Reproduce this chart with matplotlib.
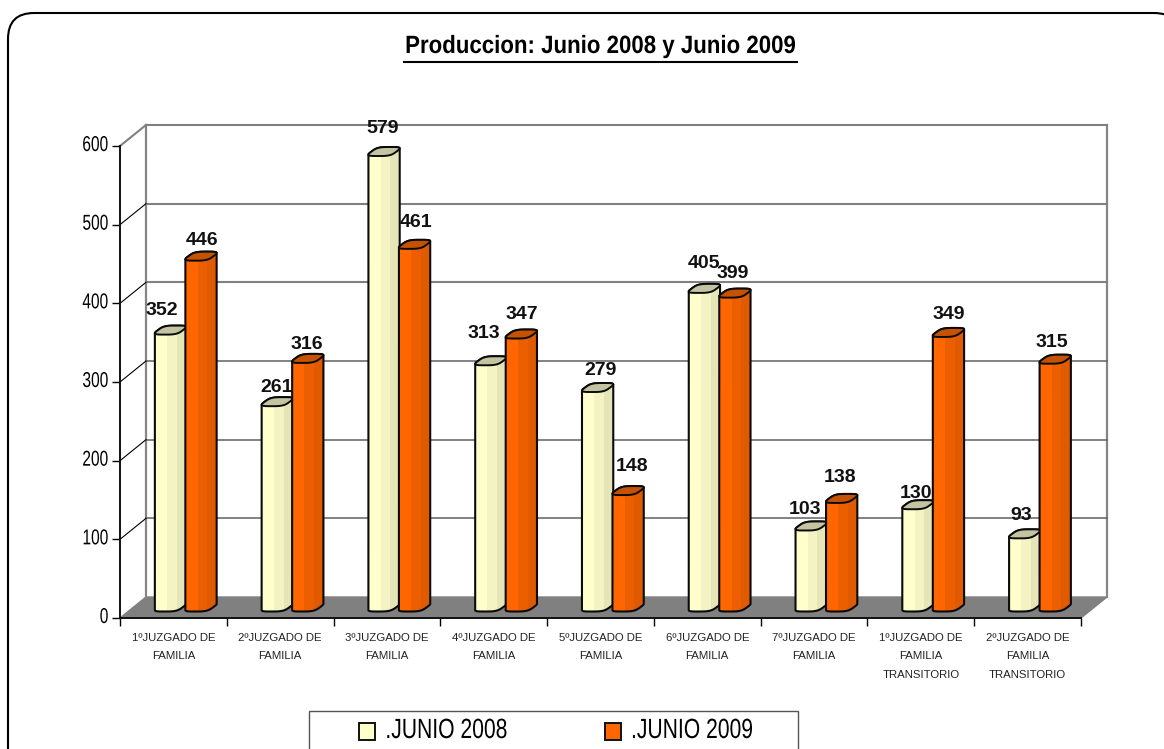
import matplotlib
matplotlib.use("Agg")
import matplotlib.pyplot as plt
import numpy as np
from matplotlib.patches import FancyBboxPatch, Polygon, Rectangle
from matplotlib.patheffects import AbstractPathEffect
from matplotlib.transforms import Affine2D

categories = ["1ºJUZGADO DE\nFAMILIA", "2ºJUZGADO DE\nFAMILIA", "3ºJUZGADO DE\nFAMILIA",
              "4ºJUZGADO DE\nFAMILIA", "5ºJUZGADO DE\nFAMILIA", "6ºJUZGADO DE\nFAMILIA",
              "7ºJUZGADO DE\nFAMILIA", "1ºJUZGADO DE\nFAMILIA\nTRANSITORIO",
              "2ºJUZGADO DE\nFAMILIA\nTRANSITORIO"]
junio_2008 = [352, 261, 579, 313, 279, 405, 103, 130, 93]
junio_2009 = [446, 316, 461, 347, 148, 399, 138, 349, 315]
y_ticks = [0, 100, 200, 300, 400, 500, 600]

# label nudges in pixels, the labels were moved by hand in the original
dx_2008 = [-8, 0, -1, -7, 3, 0, -6, -1, -3]
dy_2008 = [24, 18, 27, 31, 21, 29, 20, 15, 22]
dx_2009 = [2, 0, 3, 1, 5, -1, -1, 1, -2]
dy_2009 = [20, 18, 26, 24, 28, 24, 25, 22, 21]

W, H = 1164, 749
SANS = "Liberation Sans"


class Squeeze(AbstractPathEffect):
    # no narrow font here, so condense the glyphs around the middle (or right end) of the line
    def __init__(self, sx, dy=0, anchor="center"):
        super().__init__()
        self.sx = sx
        self.dy = dy
        self.anchor = anchor

    def draw_path(self, renderer, gc, tpath, affine, rgbFace=None):
        box = tpath.get_extents()
        mid = box.x1 if self.anchor == "right" else (box.x0 + box.x1) / 2
        sq = Affine2D().translate(-mid, 0).scale(self.sx, 1).translate(mid, 0)
        renderer.draw_path(gc, tpath, sq + affine + Affine2D().translate(0, self.dy), rgbFace)


fig = plt.figure(figsize=(W / 100, H / 100), dpi=100)
ax = fig.add_axes([120 / W, 1 - 618 / H, 961 / W, 472 / H])
ax.set_xlim(0, 9)
ax.set_ylim(0, 600)
ax.patch.set_visible(False)

# data units per pixel
px = 9 / 961
py = 600 / 472
depth_x, depth_y = 26 * px, 21 * py

# picture coordinates with y going down, for the frame parts
pic = Affine2D().scale(1, -1).translate(0, H)

# outer frame, runs off the right and bottom of the picture
frame = FancyBboxPatch((8, 13), 1172, 800, boxstyle="round,pad=0,rounding_size=26",
                       fc="white", ec="black", lw=1.5, zorder=-5)
frame.set_transform(pic)
fig.add_artist(frame)

# floor and walls
ax.add_patch(Polygon([(0, 0), (depth_x, depth_y), (9 + depth_x, depth_y), (9, 0)],
                     fc="#808080", ec="#808080", lw=1, clip_on=False, zorder=1))
ax.plot([depth_x, depth_x], [depth_y, 600 + depth_y], color="#868686", lw=1.6, clip_on=False, zorder=1)
ax.plot([9 + depth_x, 9 + depth_x], [depth_y, 600 + depth_y], color="#868686", lw=1.6, clip_on=False, zorder=1)
for v in y_ticks[1:]:
    ax.plot([depth_x, 9 + depth_x], [v + depth_y, v + depth_y],
            color="#808080" if v >= 400 else "#606060", lw=1.5 if v >= 400 else 1.1,
            clip_on=False, zorder=1)
    ax.plot([0, depth_x], [v, v + depth_y], color="#808080" if v == 600 else "black",
            lw=1.5 if v == 600 else 0.8, clip_on=False, zorder=1)

for side in ["top", "right"]:
    ax.spines[side].set_visible(False)
for side in ["left", "bottom"]:
    ax.spines[side].set_linewidth(1.4)
    ax.spines[side].set_color("#111111")
    ax.spines[side].set_zorder(2)

ax.set_yticks(y_ticks)
ax.set_yticklabels([str(v) for v in y_ticks], family=SANS, fontsize=15.5, color="black")
for lab in ax.get_yticklabels():
    lab.set_path_effects([Squeeze(0.72, dy=3, anchor="right")])
ax.tick_params(axis="y", length=5.8, width=1, pad=2.3)
ax.set_xticks(np.arange(10))
ax.set_xticklabels([])
ax.tick_params(axis="x", which="major", length=5.5, width=1)
ax.set_xticks(np.arange(9) + 0.5, minor=True)
ax.set_xticklabels(categories, minor=True, fontsize=8.2, linespacing=2.09, color="#222222",
                   family=SANS)
ax.tick_params(axis="x", which="minor", length=0, pad=10.6)


def cap_points(left, bottom, n=120):
    # rounded footprint of the cylinder, sheared along the depth direction
    t = np.linspace(0, 2 * np.pi, n, endpoint=False)
    u = 0.5 + 0.5 * np.sign(np.cos(t)) * np.abs(np.cos(t)) ** 0.55
    v = 0.5 + 0.5 * np.sign(np.sin(t)) * np.abs(np.sin(t)) ** 0.55
    return left - 3 * px + u * 25 * px + v * 12 * px, bottom + v * 9 * py


def draw_bar(left, value, strips, cap_color, z):
    lift = 6.5 * py
    xb, yb = cap_points(left, lift)
    xt, yt = cap_points(left, lift + value)
    start = np.argmin(xb)
    xb, yb = np.roll(xb, -start), np.roll(yb, -start)
    xt, yt = np.roll(xt, -start), np.roll(yt, -start)
    end = np.argmax(xb)
    outline = np.column_stack([np.r_[xb[:end + 1], xt[end:]], np.r_[yb[:end + 1], yt[end:]]])
    ax.add_patch(Polygon(outline, fc="none", ec="#0a0a0a", lw=1.5, zorder=z + 0.2, clip_on=False))
    edges = np.array([0, 0.38, 0.68, 0.95, 1.0]) * 32 * px
    clip = Polygon(outline, transform=ax.transData)
    for i, col in enumerate(strips):
        r = ax.bar(left + edges[i], value + 20 * py, edges[i + 1] - edges[i], bottom=lift - 2 * py,
                   align="edge", color=col, lw=0, zorder=z, clip_on=True)[0]
        r.set_clip_path(clip)
    ax.add_patch(Polygon(np.column_stack([xt, yt]), fc=cap_color, ec="#0a0a0a", lw=1.4,
                         zorder=z + 0.3, clip_on=False))


cream = ["#FFFFCC", "#F3F3C4", "#E5E5B8", "#D8D8AE"]
orange = ["#FF6600", "#EC5F00", "#E05A00", "#E8A070"]
for i in range(len(categories)):
    left = i + 35 * px
    draw_bar(left, junio_2008[i], cream, "#C4C4A3", 3 + i)
    draw_bar(left + 30.5 * px, junio_2009[i], orange, "#C45200", 3.5 + i)
    for x0, val, dx, dy in [(left + 15 * px, junio_2008[i], dx_2008[i], dy_2008[i]),
                            (left + 45 * px, junio_2009[i], dx_2009[i], dy_2009[i])]:
        ax.annotate(str(val), (x0, val + 7 * py), xytext=(dx, dy), textcoords="offset pixels",
                    ha="center", va="center", fontsize=14, fontweight="bold",
                    family=SANS, color="#111111", zorder=30, annotation_clip=False)

fig.text(600.5 / W, 1 - 46 / H, "Produccion: Junio 2008 y Junio 2009", ha="center", va="center",
         fontsize=18, fontweight="bold", family=SANS, color="black",
         path_effects=[Squeeze(0.89)])
fig.add_artist(plt.Line2D([404 / W, 797 / W], [1 - 62 / H, 1 - 62 / H], color="black", lw=1.5))

# legend box is cut by the lower edge of the picture, so the box is its own patch
box = Rectangle((309, 711), 489, 60, fc="white", ec="#555555", lw=1, zorder=-4)
box.set_transform(pic)
fig.add_artist(box)
handles = [Rectangle((0, 0), 1, 1, fc="#FFFFCC", ec="#111111", lw=1.4),
           Rectangle((0, 0), 1, 1, fc="#FF6600", ec="#111111", lw=1.4)]
leg = fig.legend(handles, [".JUNIO 2008", ".JUNIO 2009"], loc="upper left",
                 bbox_to_anchor=(359 / W, 1 - 721 / H), ncol=2, borderaxespad=0, frameon=False,
                 borderpad=0, handlelength=0.58, handleheight=0.58, handletextpad=-0.33,
                 columnspacing=2.82, prop={"family": SANS, "size": 20})
for txt in leg.get_texts():
    txt.set_path_effects([Squeeze(0.76, dy=3)])

fig.savefig("out.png", dpi=100)
